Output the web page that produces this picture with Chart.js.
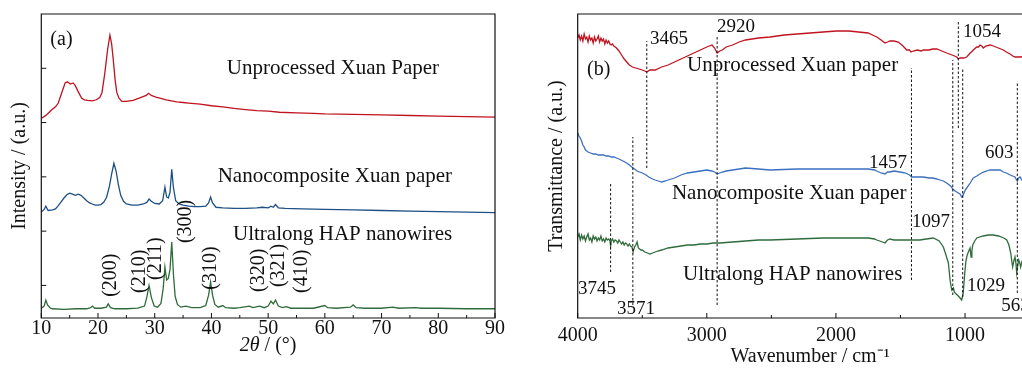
<!DOCTYPE html>
<html>
<head>
<meta charset="utf-8">
<script src="https://cdn.jsdelivr.net/npm/chart.js@4.4.0/dist/chart.umd.min.js"></script>
<style>
  body { margin: 0; background: #fff; overflow: hidden; }
  #wrap { position: relative; width: 1022px; height: 372px; overflow: hidden; }
  #xrdChart { position: absolute; left: 0; top: 0; }
  #ftirChart { position: absolute; left: 530px; top: 0; }
</style>
</head>
<body>
<div id="wrap">
  <canvas id="xrdChart" width="520" height="372"></canvas>
  <canvas id="ftirChart" width="520" height="372"></canvas>
</div>
<script>
// ===== (a) XRD data: [2theta, intensity offset units] =====
const xrdUnprocessed = [[10,3.08],[10.5,3.11],[11,3.15],[11.8,3.23],[12.5,3.29],[13,3.36],[13.6,3.55],[14.2,3.73],[14.6,3.75],[15.1,3.71],[15.6,3.73],[16,3.68],[16.5,3.57],[17.1,3.45],[17.6,3.42],[18.2,3.41],[19,3.40],[19.7,3.42],[20.3,3.46],[20.7,3.55],[21.2,3.91],[21.7,4.35],[22.1,4.61],[22.4,4.45],[22.7,4.15],[23.0,3.80],[23.3,3.56],[23.7,3.45],[24.2,3.39],[25,3.39],[26.2,3.41],[27.5,3.46],[28.5,3.50],[28.9,3.54],[29.4,3.50],[30.2,3.47],[30.9,3.45],[32,3.42],[33.9,3.38],[35,3.37],[36,3.36],[38,3.34],[40,3.31],[42,3.29],[44,3.26],[46,3.24],[48,3.22],[50,3.21],[52,3.19],[55,3.18],[58,3.17],[60,3.16],[65,3.15],[70,3.14],[75,3.13],[80,3.12],[85,3.11],[90,3.10]];
const xrdNanocomposite = [[10,1.35],[10.5,1.40],[10.8,1.46],[11.2,1.38],[12,1.39],[12.5,1.41],[13,1.47],[13.5,1.54],[14,1.61],[14.5,1.67],[15,1.70],[15.5,1.68],[16,1.66],[16.5,1.68],[17,1.66],[17.5,1.61],[18,1.56],[18.5,1.52],[19,1.50],[19.5,1.48],[20,1.48],[20.5,1.49],[21,1.53],[21.5,1.62],[22,1.82],[22.4,2.05],[22.8,2.25],[23.2,2.10],[23.6,1.85],[24,1.66],[24.5,1.55],[25,1.50],[26,1.48],[27,1.48],[28,1.50],[28.6,1.53],[29,1.59],[29.4,1.55],[30,1.51],[30.8,1.50],[31.4,1.56],[31.8,1.81],[32.1,1.63],[32.4,1.61],[32.7,1.72],[33,2.14],[33.3,1.80],[33.7,1.56],[34.3,1.50],[35,1.48],[36,1.46],[37,1.45],[38,1.45],[39,1.46],[39.5,1.52],[39.85,1.63],[40.2,1.52],[40.8,1.44],[42,1.43],[44,1.42],[46,1.42],[48,1.43],[49,1.44],[50,1.43],[50.5,1.46],[50.9,1.44],[51.3,1.49],[51.8,1.43],[53,1.42],[56,1.41],[60,1.40],[65,1.39],[70,1.38],[75,1.37],[80,1.36],[85,1.35],[90,1.34]];
const xrdHap = [[10,-0.42],[10.5,-0.38],[10.8,-0.27],[11.1,-0.36],[11.6,-0.42],[12,-0.43],[14,-0.44],[16,-0.43],[18,-0.43],[18.7,-0.41],[19,-0.38],[19.4,-0.42],[20.5,-0.42],[21.5,-0.40],[21.8,-0.34],[22.2,-0.41],[23,-0.43],[25,-0.43],[27,-0.42],[28.2,-0.38],[28.6,-0.22],[29,0.0],[29.4,-0.22],[29.9,-0.38],[30.5,-0.40],[31.1,-0.33],[31.5,-0.05],[31.8,0.34],[32.1,0.10],[32.4,0.13],[32.7,0.30],[33,0.80],[33.3,0.20],[33.6,-0.20],[34,-0.35],[34.6,-0.40],[35.5,-0.38],[36.5,-0.41],[38,-0.41],[39,-0.37],[39.5,-0.18],[39.85,0.06],[40.2,-0.18],[40.6,-0.35],[41.2,-0.40],[42,-0.37],[42.5,-0.41],[44,-0.42],[45,-0.41],[46.7,-0.38],[47.3,-0.41],[48.5,-0.38],[49.3,-0.41],[50,-0.38],[50.5,-0.29],[50.9,-0.34],[51.3,-0.27],[51.8,-0.38],[52.5,-0.41],[53.2,-0.39],[54,-0.42],[56,-0.42],[58,-0.42],[60,-0.37],[60.5,-0.41],[62,-0.42],[64.5,-0.40],[65,-0.36],[65.5,-0.41],[67,-0.42],[70,-0.42],[72,-0.40],[73,-0.42],[76,-0.41],[77,-0.42],[80,-0.42],[85,-0.43],[90,-0.43]];

const xrdTicks = [10, 20, 30, 40, 50, 60, 70, 80, 90];
const xrdNames = ["Unprocessed Xuan Paper", "Nanocomposite Xuan paper", "Ultralong HAP nanowires"];
// miller index: [label, 2theta, where the text starts]
const millerLabels = [["(200)",22.2,-0.21],["(210)",27.4,-0.14],["(211)",30.1,0.10],["(300)",35.4,0.78],["(310)",39.8,-0.08],["(320)",48.4,-0.12],["(321)",51.8,-0.03],["(410)",56.0,-0.14]];

// ===== (b) FTIR data: [wavenumber, transmittance offset units] =====
const ftirUnprocessed = [[4000,280],[3990,283],[3980,278],[3970,282],[3960,277],[3950,284],[3940,279],[3930,281],[3920,276],[3910,282],[3900,278],[3890,280],[3880,275],[3870,281],[3860,277],[3850,279],[3840,282],[3830,276],[3820,280],[3810,277],[3800,279],[3790,274],[3780,278],[3770,275],[3760,277],[3750,274],[3740,273],[3730,274],[3720,272],[3710,271],[3700,270],[3680,267],[3660,263],[3640,259],[3620,256],[3600,253],[3575,251],[3550,250],[3525,249],[3500,248],[3480,247],[3465,246],[3440,248],[3400,248],[3350,251],[3300,253],[3250,256],[3200,259],[3150,262],[3100,265],[3050,268],[3000,271],[2960,273],[2940,270],[2920,265],[2900,267],[2880,268],[2850,271],[2800,273],[2750,276],[2700,278],[2600,280],[2510,281],[2400,283],[2300,284],[2200,285],[2100,286],[1994,287],[1900,287],[1826,286],[1750,285],[1700,282],[1684,281],[1650,278],[1620,275],[1600,276],[1582,277],[1550,277],[1517,276],[1480,272],[1452,268],[1430,268],[1420,266],[1400,267],[1370,268],[1340,267],[1323,268],[1280,268],[1250,269],[1219,269],[1180,267],[1142,265],[1100,263],[1064,261],[1052,259],[1039,260],[1010,260],[987,261],[960,265],[950,266],[936,268],[910,271],[895,271],[884,273],[870,272],[858,270],[840,272],[806,273],[780,272],[742,270],[703,268],[680,266],[651,264],[630,262],[613,261],[574,261],[500,262],[400,263]];
const ftirNanocomposite = [[4000,185],[3990,182],[3980,180],[3970,177],[3960,173],[3950,171],[3940,168],[3930,167],[3920,166],[3900,165],[3880,164],[3860,164],[3840,163],[3820,163],[3800,163],[3780,162],[3760,162],[3740,161],[3720,161],[3700,160],[3680,159],[3650,157],[3620,155],[3600,153],[3571,150],[3540,147],[3500,145],[3470,143],[3450,141],[3420,139],[3400,138],[3375,137],[3350,136],[3320,137],[3300,138],[3250,140],[3200,143],[3150,145],[3100,146],[3050,147],[3000,148],[2960,147],[2940,146],[2920,144],[2900,145],[2880,146],[2850,147],[2800,148],[2700,150],[2600,149],[2510,148],[2300,149],[2100,149],[1994,149],[1850,149],[1750,149],[1700,148],[1684,147],[1650,145],[1620,144],[1600,146],[1582,146],[1550,147],[1504,146],[1460,145],[1430,143],[1413,141],[1380,141],[1323,141],[1280,140],[1250,140],[1219,139],[1194,138],[1168,137],[1142,135],[1111,132],[1095,129],[1077,127],[1052,125],[1039,124],[1026,121],[1018,122],[1008,125],[998,128],[987,130],[960,135],[936,140],[909,142],[884,144],[858,146],[830,147],[806,148],[770,148],[729,148],[703,146],[680,145],[650,143],[613,141],[605,139],[595,137],[585,140],[574,141],[560,138],[500,139],[400,140]];
const ftirHap = [[4000,81],[3990,84],[3980,78],[3970,83],[3960,79],[3950,82],[3940,77],[3930,81],[3920,84],[3910,78],[3900,80],[3890,76],[3880,82],[3870,79],[3860,81],[3850,77],[3840,80],[3830,78],[3820,82],[3810,77],[3800,79],[3790,76],[3780,80],[3770,78],[3760,79],[3750,77],[3745,72],[3740,77],[3730,79],[3720,76],[3710,78],[3700,77],[3690,75],[3680,78],[3670,76],[3660,74],[3650,76],[3640,73],[3630,75],[3620,74],[3610,72],[3600,74],[3590,72],[3580,71],[3571,66],[3560,71],[3550,73],[3540,76],[3530,70],[3520,69],[3510,68],[3500,68],[3480,66],[3460,65],[3440,64],[3420,65],[3400,66],[3380,67],[3350,68],[3300,70],[3250,71],[3200,72],[3150,73],[3100,73],[3050,74],[3000,74],[2950,75],[2900,75],[2800,76],[2700,77],[2600,78],[2510,78],[2300,79],[2100,80],[1994,80],[1850,80],[1750,80],[1700,79],[1684,78],[1660,77],[1640,76],[1620,75],[1600,78],[1582,79],[1550,78],[1517,78],[1452,78],[1400,78],[1350,78],[1300,79],[1245,80],[1200,77],[1168,71],[1150,64],[1129,55],[1116,38],[1103,28],[1090,30],[1083,26],[1077,25],[1060,23],[1045,21],[1026,18],[1015,24],[1008,35],[1000,48],[992,58],[983,63],[974,66],[961,70],[953,61],[947,67],[940,73],[925,77],[909,80],[860,82],[820,83],[781,83],[740,82],[700,80],[677,78],[660,73],[646,65],[638,57],[631,51],[622,57],[613,61],[606,55],[600,45],[592,52],[584,58],[576,55],[569,51],[560,56],[540,63],[500,72],[450,78],[400,80]];

const ftirTicks = [4000, 3000, 2000, 1000];
const ftirNames = ["Unprocessed Xuan paper", "Nanocomposite Xuan paper", "Ultralong HAP nanowires"];
// peak marks: [label, line position, line from, line to]
const ftirPeaks = [["3745",3745,46,135],["3571",3573,13,181],["3465",3465,150,277],["2920",2920,13,281],["1457",1415,38,250],["1054",1052,190,297],["1097",1095,23,258],["1029",1018,21,250],["603",595,25,235]];

const FONT = '"Liberation Serif", "Times New Roman", serif';
const BLACK = "#111";

function serif(size, style) {
  return (style ? style + " " : "") + size + "px " + FONT;
}

function lineSet(points, color) {
  return {
    data: points.map((p) => ({ x: p[0], y: p[1] })),
    borderColor: color,
    borderWidth: 1.3,
    pointRadius: 0,
    tension: 0,
    fill: false,
  };
}

// frame + inward ticks + free text, config in options.plugins.deco
const decoPlugin = {
  id: "deco",
  afterDatasetsDraw(chart, args, opts) {
    const ctx = chart.ctx;
    const a = chart.chartArea;
    const xs = chart.scales.x;
    const ys = chart.scales.y;
    ctx.save();
    ctx.strokeStyle = BLACK;
    ctx.lineWidth = 1.2;
    ctx.beginPath();
    ctx.moveTo(a.left, a.top);
    ctx.lineTo(a.right, a.top);
    ctx.lineTo(a.right, a.bottom);
    ctx.lineTo(a.left, a.bottom);
    ctx.closePath();
    ctx.stroke();

    ctx.lineWidth = 1;
    (opts.xMajor || []).forEach((v) => {
      const px = xs.getPixelForValue(v);
      ctx.beginPath(); ctx.moveTo(px, a.bottom); ctx.lineTo(px, a.bottom - 5); ctx.stroke();
    });
    (opts.xMinor || []).forEach((v) => {
      const px = xs.getPixelForValue(v);
      ctx.beginPath(); ctx.moveTo(px, a.bottom); ctx.lineTo(px, a.bottom - 3); ctx.stroke();
    });
    (opts.yMajor || []).forEach((v) => {
      const py = ys.getPixelForValue(v);
      ctx.beginPath(); ctx.moveTo(a.left, py); ctx.lineTo(a.left + 5, py); ctx.stroke();
    });

    // dashed peak lines
    ctx.setLineDash([2.5, 2]);
    (opts.dashes || []).forEach((d) => {
      const px = xs.getPixelForValue(d[1]);
      ctx.beginPath();
      ctx.moveTo(px, ys.getPixelForValue(d[2]));
      ctx.lineTo(px, ys.getPixelForValue(d[3]));
      ctx.stroke();
    });
    ctx.setLineDash([]);

    ctx.fillStyle = BLACK;
    ctx.textBaseline = "middle";
    (opts.texts || []).forEach((t) => {
      ctx.font = serif(t.size || 20);
      ctx.textAlign = t.align || "left";
      const px = xs.getPixelForValue(t.x);
      const py = ys.getPixelForValue(t.y);
      if (t.rotate) {
        ctx.save();
        ctx.translate(px, py);
        ctx.rotate(-Math.PI / 2);
        ctx.fillText(t.text, 0, 0);
        ctx.restore();
      } else {
        ctx.fillText(t.text, px, py);
      }
    });

    if (opts.xTitle) {
      const cx = (a.left + a.right) / 2;
      const cy = opts.xTitle.y;
      const parts = opts.xTitle.parts;
      let total = 0;
      parts.forEach((p) => { ctx.font = serif(20, p[1]); total += ctx.measureText(p[0]).width; });
      let x = cx - total / 2;
      ctx.textAlign = "left";
      parts.forEach((p) => {
        ctx.font = serif(20, p[1]);
        ctx.fillText(p[0], x, cy);
        x += ctx.measureText(p[0]).width;
      });
    }
    ctx.restore();
  },
};

/* ===== (a) XRD ===== */
const xrdTexts = [
  { text: "(a)", x: 11.6, y: 4.52 },
  { text: xrdNames[0], x: 42.7, y: 4.0, size: 21 },
  { text: xrdNames[1], x: 41.1, y: 2.0, size: 21 },
  { text: xrdNames[2], x: 43.8, y: 0.93, size: 21 },
].concat(millerLabels.map((m) => ({ text: m[0], x: m[1], y: m[2], rotate: true })));

new Chart(document.getElementById("xrdChart"), {
  type: "line",
  data: {
    datasets: [
      lineSet(xrdUnprocessed, "#c0121f"),
      lineSet(xrdNanocomposite, "#1e4f86"),
      lineSet(xrdHap, "#2f6b3b"),
    ],
  },
  options: {
    responsive: false,
    animation: false,
    layout: { padding: { top: 14, right: 25, left: 0, bottom: 0 } },
    plugins: {
      legend: { display: false },
      tooltip: { enabled: false },
      deco: {
        xMajor: xrdTicks,
        xMinor: [15, 25, 35, 45, 55, 65, 75, 85],
        yMajor: [0, 1, 2, 3, 4],
        texts: xrdTexts,
        xTitle: { y: 346, parts: [["2θ", "italic"], [" / (°)", ""]] },
      },
    },
    scales: {
      x: {
        type: "linear",
        min: 10,
        max: 90,
        afterBuildTicks: (s) => { s.ticks = xrdTicks.map((v) => ({ value: v })); },
        afterFit: (s) => { s.height = 54; },
        grid: { display: false, drawTicks: false },
        border: { display: false },
        ticks: { color: BLACK, font: { family: FONT, size: 20, lineHeight: 1 }, padding: 1, maxRotation: 0, callback: (v) => String(v) },
      },
      y: {
        min: -0.6,
        max: 5,
        afterFit: (s) => { s.width = 41.3; },
        grid: { display: false, drawTicks: false },
        border: { display: false },
        ticks: { display: false },
        title: { display: true, text: "Intensity / (a.u.)", color: BLACK, font: { family: FONT, size: 20 }, padding: { top: 8, bottom: 0 } },
      },
    },
  },
  plugins: [decoPlugin],
});

/* ===== (b) FTIR ===== */
const ftirTexts = [
  { text: "(b)", x: 3928, y: 248 },
  { text: ftirNames[0], x: 3153, y: 253, size: 21 },
  { text: ftirNames[1], x: 3270, y: 125, size: 21 },
  { text: ftirNames[2], x: 3184, y: 44, size: 21 },
  { text: "3465", x: 3440, y: 279, size: 19 },
  { text: "2920", x: 2921, y: 291, size: 19 },
  { text: "1054", x: 1016, y: 286, size: 19 },
  { text: "1457", x: 1449, y: 155, size: 19, align: "right" },
  { text: "603", x: 845, y: 165, size: 19 },
  { text: "1097", x: 1411, y: 96, size: 19 },
  { text: "1029", x: 984, y: 32, size: 19 },
  { text: "563", x: 720, y: 12, size: 19 },
  { text: "3745", x: 3998, y: 29, size: 19 },
  { text: "3571", x: 3696, y: 9, size: 19 },
];

new Chart(document.getElementById("ftirChart"), {
  type: "line",
  data: {
    datasets: [
      lineSet(ftirUnprocessed, "#c0121f"),
      lineSet(ftirNanocomposite, "#3b6fc0"),
      lineSet(ftirHap, "#2f6b3b"),
    ],
  },
  options: {
    responsive: false,
    animation: false,
    layout: { padding: { top: 14, right: 7.5, left: 0, bottom: 0 } },
    plugins: {
      legend: { display: false },
      tooltip: { enabled: false },
      deco: {
        xMajor: ftirTicks,
        xMinor: [3500, 2500, 1500, 500],
        dashes: ftirPeaks,
        texts: ftirTexts,
      },
    },
    scales: {
      x: {
        type: "linear",
        reverse: true,
        min: 400,
        max: 4000,
        afterBuildTicks: (s) => { s.ticks = ftirTicks.map((v) => ({ value: v })); },
        afterFit: (s) => { s.height = 54; },
        grid: { display: false, drawTicks: false },
        border: { display: false },
        ticks: { color: BLACK, font: { family: FONT, size: 20, lineHeight: 1 }, padding: 8, maxRotation: 0, callback: (v) => String(v) },
        title: { display: true, text: "Wavenumber / cm⁻¹", color: BLACK, font: { family: FONT, size: 20 }, padding: { top: 0, bottom: 3 } },
      },
      y: {
        min: 0,
        max: 304,
        afterFit: (s) => { s.width = 47.7; },
        grid: { display: false, drawTicks: false },
        border: { display: false },
        ticks: { display: false },
        title: { display: true, text: "Transmittance / (a.u.)", color: BLACK, font: { family: FONT, size: 20 }, padding: { top: 15, bottom: 0 } },
      },
    },
  },
  plugins: [decoPlugin],
});
</script>
</body>
</html>
